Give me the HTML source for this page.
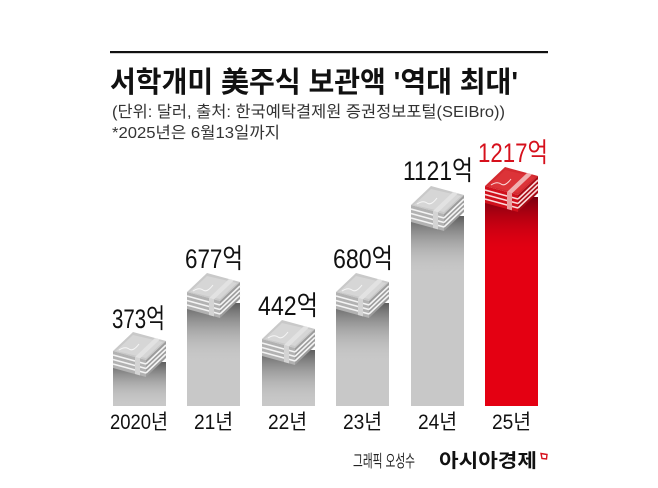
<!DOCTYPE html>
<html><head><meta charset="utf-8"><style>
html,body{margin:0;padding:0;background:#fff;}
svg{display:block;}
text{font-family:"Liberation Sans","Noto Sans CJK KR",sans-serif;}
</style></head><body>
<svg width="658" height="488" viewBox="0 0 658 488" xmlns="http://www.w3.org/2000/svg">
<defs>
<linearGradient id="gs" x1="0" y1="0" x2="0" y2="1"><stop offset="0" stop-color="#5e5e5e" stop-opacity="1"/><stop offset="1" stop-color="#c8c8c8" stop-opacity="0"/></linearGradient>
<linearGradient id="rs" x1="0" y1="0" x2="0" y2="1"><stop offset="0" stop-color="#7a0010" stop-opacity="1"/><stop offset="1" stop-color="#e40012" stop-opacity="0"/></linearGradient>
<g id="stackG">
<polygon points="0,19 20,0 53,9 33,28" fill="#c9c9c9"/>
<polygon points="3,19 20,3 50,10 33,26" fill="#d6d6d6"/>
<polygon points="0,19 33,28 33,45 0,36" fill="#b2b2b2"/>
<polygon points="33,28 53,9 53,26 33,45" fill="#9c9c9c"/>
<g stroke="#f4f4f4" stroke-width="1.6">
<line x1="0" y1="23" x2="33" y2="32"/><line x1="0" y1="27.5" x2="33" y2="36.5"/><line x1="0" y1="32" x2="33" y2="41"/>
<line x1="33" y1="32" x2="53" y2="13"/><line x1="33" y1="36.5" x2="53" y2="17.5"/><line x1="33" y1="41" x2="53" y2="22"/>
</g>
<polygon points="22,25 42,6 47,7.4 27,26.4" fill="#e2e2e2"/>
<polygon points="22,25 27,26.4 27,43.4 22,42" fill="#d4d4d4"/>
<path d="M6,18 Q12,14 16,17 T26,12" stroke="#f6f6f6" stroke-width="1" fill="none"/>
</g>
<g id="stackR">
<polygon points="0,19 20,0 53,9 33,28" fill="#d42a30"/>
<polygon points="3,19 20,3 50,10 33,26" fill="#dc3338"/>
<polygon points="0,19 33,28 33,45 0,36" fill="#d0101c"/>
<polygon points="33,28 53,9 53,26 33,45" fill="#a80a14"/>
<g stroke="#fbdada" stroke-width="1.6">
<line x1="0" y1="23" x2="33" y2="32"/><line x1="0" y1="27.5" x2="33" y2="36.5"/><line x1="0" y1="32" x2="33" y2="41"/>
<line x1="33" y1="32" x2="53" y2="13"/><line x1="33" y1="36.5" x2="53" y2="17.5"/><line x1="33" y1="41" x2="53" y2="22"/>
</g>
<polygon points="22,25 42,6 47,7.4 27,26.4" fill="#f0b0b0"/>
<polygon points="22,25 27,26.4 27,43.4 22,42" fill="#eaa0a0"/>
<path d="M6,18 Q12,14 16,17 T26,12" stroke="#fbdada" stroke-width="1" fill="none"/>
</g>
</defs>

<!-- title rule -->
<rect x="110" y="51" width="438" height="2.2" fill="#111"/>
<text x="110" y="92" font-size="29" font-weight="bold" fill="#111" textLength="408" lengthAdjust="spacingAndGlyphs">서학개미 美주식 보관액 '역대 최대'</text>
<text x="112" y="117" font-size="16" fill="#333" textLength="393" lengthAdjust="spacingAndGlyphs">(단위: 달러, 출처: 한국예탁결제원 증권정보포털(SEIBro))</text>
<text x="112" y="138" font-size="16" fill="#333" textLength="168" lengthAdjust="spacingAndGlyphs">*2025년은 6월13일까지</text>

<!-- bars -->
<rect x="113" y="362" width="53" height="44" fill="#c8c8c8"/><rect x="113" y="362" width="53" height="44" fill="url(#gs)"/>
<rect x="187" y="303" width="53" height="103" fill="#c8c8c8"/><rect x="187" y="303" width="53" height="60" fill="url(#gs)"/>
<rect x="262" y="350" width="53" height="56" fill="#c8c8c8"/><rect x="262" y="350" width="53" height="56" fill="url(#gs)"/>
<rect x="336" y="303" width="53" height="103" fill="#c8c8c8"/><rect x="336" y="303" width="53" height="60" fill="url(#gs)"/>
<rect x="411" y="216" width="53" height="190" fill="#c8c8c8"/><rect x="411" y="216" width="53" height="60" fill="url(#gs)"/>
<rect x="485" y="197" width="53" height="209" fill="#e40012"/><rect x="485" y="197" width="53" height="60" fill="url(#rs)"/>

<use href="#stackG" x="113" y="332"/>
<use href="#stackG" x="187" y="273"/>
<use href="#stackG" x="262" y="320"/>
<use href="#stackG" x="336" y="273"/>
<use href="#stackG" x="411" y="186"/>
<use href="#stackR" x="485" y="167"/>

<!-- value labels -->
<g font-size="27" fill="#111">
<text x="112" y="328" textLength="53" lengthAdjust="spacingAndGlyphs">373억</text>
<text x="185" y="268" textLength="58" lengthAdjust="spacingAndGlyphs">677억</text>
<text x="258" y="315" textLength="60" lengthAdjust="spacingAndGlyphs">442억</text>
<text x="333" y="268" textLength="60" lengthAdjust="spacingAndGlyphs">680억</text>
<text x="403" y="180" textLength="70" lengthAdjust="spacingAndGlyphs">1121억</text>
<text x="478" y="162" fill="#d6101c" textLength="70" lengthAdjust="spacingAndGlyphs">1217억</text>
</g>

<!-- year labels -->
<g font-size="21" fill="#111">
<text x="110" y="429" textLength="58" lengthAdjust="spacingAndGlyphs">2020년</text>
<text x="194" y="429" textLength="39" lengthAdjust="spacingAndGlyphs">21년</text>
<text x="268" y="429" textLength="39" lengthAdjust="spacingAndGlyphs">22년</text>
<text x="343" y="429" textLength="39" lengthAdjust="spacingAndGlyphs">23년</text>
<text x="418" y="429" textLength="39" lengthAdjust="spacingAndGlyphs">24년</text>
<text x="492" y="429" textLength="39" lengthAdjust="spacingAndGlyphs">25년</text>
</g>

<!-- footer -->
<text x="353" y="467" font-size="17" fill="#222" textLength="62" lengthAdjust="spacingAndGlyphs">그래픽 오성수</text>
<text x="439" y="467" font-size="19" font-weight="bold" fill="#111" textLength="98" lengthAdjust="spacingAndGlyphs">아시아경제</text>
<path d="M541,453.5 L547,454.5 L546.5,459 L542,458.5 Z" fill="none" stroke="#d6101c" stroke-width="1.4"/>
</svg>
</body></html>
